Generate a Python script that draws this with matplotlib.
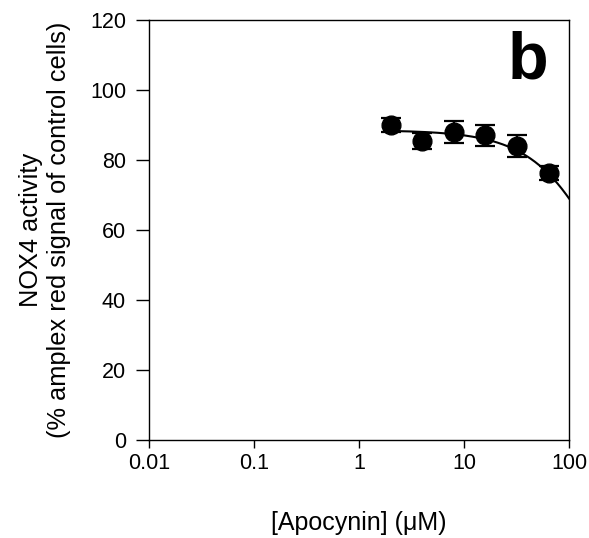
import matplotlib
matplotlib.use('Agg')
from matplotlib import pyplot as plt
import numpy as np

plt.rcParams['font.family'] = ['Liberation Sans', 'DejaVu Sans']

# apocynin concentrations (uM) and NOX4 activity (% of control)
conc = [2, 4, 8, 16, 32, 64]
activity = [90, 85.3, 88, 87, 84, 76.2]
err = [2.1, 2.3, 3.1, 3.0, 3.1, 2.0]

# fitted dose-response curve parameters
fit_top = 88.5
fit_ic50 = 282.0
fit_hill = 1.22
fit_range = (2, 100)

xfit = np.logspace(np.log10(fit_range[0]), np.log10(fit_range[1]), 200)
yfit = fit_top / (1 + (xfit / fit_ic50) ** fit_hill)

fig = plt.figure(figsize=(5.89, 5.38), dpi=100)
ax = fig.add_axes([0.253, 0.182, 0.713, 0.781])

ax.plot(xfit, yfit, color='black', lw=1.5)
ax.errorbar(conc, activity, yerr=err, fmt='o', color='black', ms=13.5,
            capsize=7.5, capthick=1.6, elinewidth=1.6, zorder=3)

ax.set_xscale('log')
ax.set_xlim(0.01, 100)
ax.set_ylim(0, 120)
ax.set_xticks([0.01, 0.1, 1, 10, 100])
ax.set_xticklabels(['0.01', '0.1', '1', '10', '100'])
ax.set_yticks([0, 20, 40, 60, 80, 100, 120])
ax.minorticks_off()
ax.tick_params(direction='out', width=1, labelsize=15.5,
               top=False, right=False)
ax.tick_params(axis='x', length=6, pad=3)
ax.tick_params(axis='y', length=9.5, pad=7)
for s in ax.spines.values():
    s.set_linewidth(1)

ax.set_xlabel('[Apocynin] (\u03bcM)', fontsize=18, labelpad=27)
ax.set_ylabel('NOX4 activity\n(% amplex red signal of control cells)',
              fontsize=18.3, labelpad=14)

ax.text(0.95, 0.90, 'b', transform=ax.transAxes, fontsize=48,
        fontweight='bold', ha='right', va='center')

fig.savefig('out.png', dpi=100)
